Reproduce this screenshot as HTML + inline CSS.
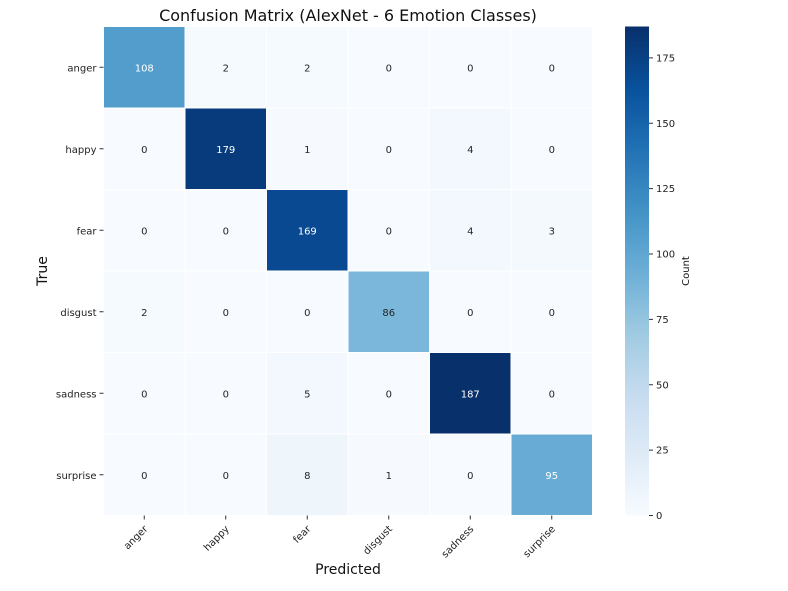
<!DOCTYPE html>
<html><head><meta charset="utf-8"><style>
body{margin:0;background:#fff;}
svg{display:block;font-family:"DejaVu Sans","Liberation Sans",sans-serif;}
</style></head><body>
<svg id="chart" width="788" height="591" viewBox="0 0 788 591">
<rect width="788" height="591" fill="#fff"/>
<text x="348" y="21" text-anchor="middle" font-size="16" fill="#111">Confusion Matrix (AlexNet - 6 Emotion Classes)</text>
<text x="348" y="574" text-anchor="middle" font-size="14" fill="#111">Predicted</text>
<text x="47" y="271" text-anchor="middle" font-size="14" fill="#111" transform="rotate(-90 47 271)">True</text>
<text x="689" y="271" text-anchor="middle" font-size="10" fill="#111" transform="rotate(-90 689 271)">Count</text>
<g id="cells"></g><g id="xt"></g><g id="yt"></g><g id="cb"></g>
</svg>
<script>
const categories = ["anger","happy","fear","disgust","sadness","surprise"];
const row0 = [108,2,2,0,0,0];
const row1 = [0,179,1,0,4,0];
const row2 = [0,0,169,0,4,3];
const row3 = [2,0,0,86,0,0];
const row4 = [0,0,5,0,187,0];
const row5 = [0,0,8,1,0,95];
const matrix = [row0,row1,row2,row3,row4,row5];
const cbTicks = [0,25,50,75,100,125,150,175];
const vmax = 187;

const NS="http://www.w3.org/2000/svg";
const X0=103.5, Y0=26.5, CW=81.5, CH=81.5;
const xPos=i=>X0+i*CW, yPos=i=>Y0+i*CH;
const stops=["#f7fbff","#deebf7","#c6dbef","#9ecae1","#6baed6","#4292c6","#2171b5","#08519c","#08306b"];
function hex(h){return [1,3,5].map(k=>parseInt(h.substr(k,2),16));}
function color(v){let t=Math.max(0,Math.min(1,v/vmax))*(stops.length-1);let i=Math.min(Math.floor(t),stops.length-2),f=t-i;
 const a=hex(stops[i]),b=hex(stops[i+1]);return "rgb("+a.map((c,k)=>Math.round(c+(b[k]-c)*f)).join(",")+")";}
function mk(tag,attrs,parent){const e=document.createElementNS(NS,tag);for(const k in attrs)e.setAttribute(k,attrs[k]);parent.appendChild(e);return e;}
const cells=document.getElementById("cells");
matrix.forEach((row,r)=>row.forEach((v,c)=>{
 const rc=mk("rect",{x:xPos(c)+0.5,y:yPos(r)+0.5,width:CW-1,height:CH-1,fill:color(v)},cells);
 
 
 const t=mk("text",{x:xPos(c)+CW/2,y:yPos(r)+CH/2+4,"text-anchor":"middle","font-size":"10",fill:v>90?"#fff":"#262626"},cells);
 t.textContent=v;
 
 
}));
const xt=document.getElementById("xt"), yt=document.getElementById("yt");
categories.forEach((c,i)=>{
 const cx=xPos(i)+CW/2, by=Y0+6*CH;
 mk("line",{x1:cx,y1:by,x2:cx,y2:by+4,stroke:"#333"},xt);
 const t=mk("text",{x:cx+4,y:by+14,"text-anchor":"end","font-size":"10",fill:"#222",transform:"rotate(-45 "+(cx+4)+" "+(by+14)+")"},xt);
 t.textContent=c;
 
 
 const cy=yPos(i)+CH/2;
 mk("line",{x1:X0-4,y1:cy,x2:X0,y2:cy,stroke:"#333"},yt);
 const u=mk("text",{x:X0-7,y:cy+4,"text-anchor":"end","font-size":"10",fill:"#222"},yt);
 u.textContent=c;
 
 
});
const cb=document.getElementById("cb");
const CBX=625,CBW=24,CBT=26.5,CBB=515.5;
const cbY=v=>CBB-(v/vmax)*(CBB-CBT);
const grad=mk("linearGradient",{id:"g",x1:"0",y1:"1",x2:"0",y2:"0"},mk("defs",{},cb));
stops.forEach((s,i)=>mk("stop",{offset:i/(stops.length-1),"stop-color":s},grad));
const bar=mk("rect",{x:CBX,y:CBT,width:CBW,height:CBB-CBT,fill:"url(#g)"},cb);


cbTicks.forEach(v=>{
 const y=cbY(v);
 mk("line",{x1:CBX+CBW,y1:y,x2:CBX+CBW+4,y2:y,stroke:"#333"},cb);
 const t=mk("text",{x:CBX+CBW+7,y:y+3.5,"font-size":"10",fill:"#222"},cb);
 t.textContent=v;
 
 
});
</script>
</body></html>
